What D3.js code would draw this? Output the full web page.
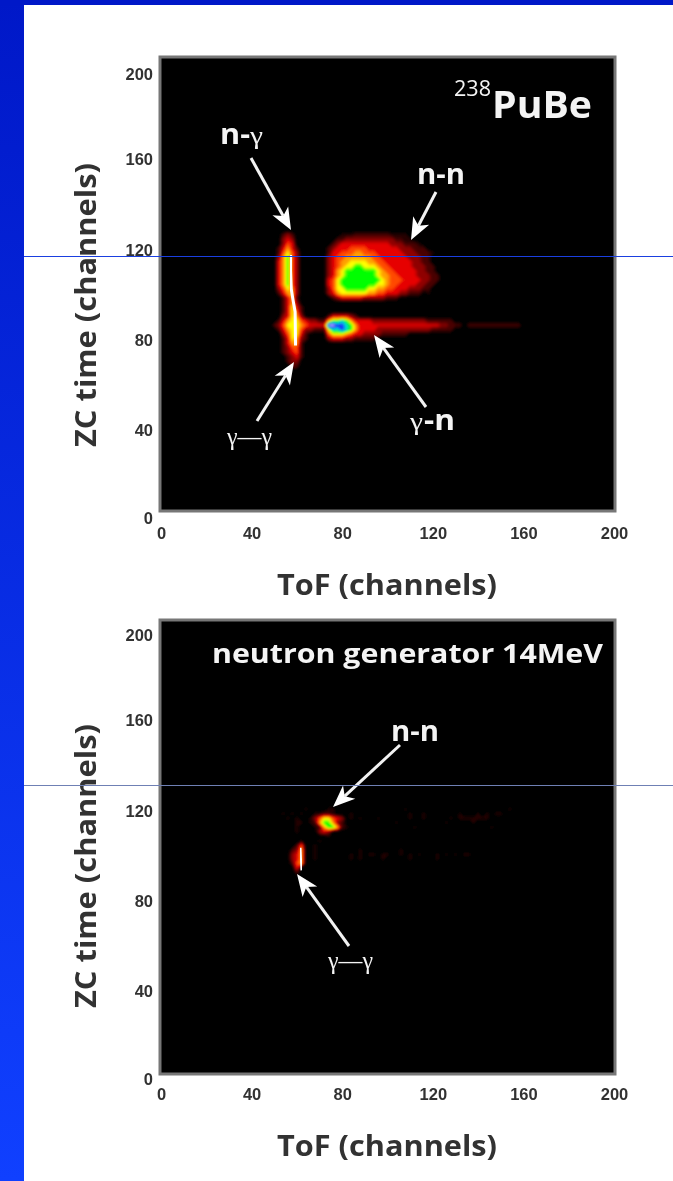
<!DOCTYPE html>
<html>
<head>
<meta charset="utf-8">
<script src="https://cdn.jsdelivr.net/npm/d3@7"></script>
<style>
  html, body { margin: 0; padding: 0; background: #fff; }
  svg { display: block; }
  text { font-family: "Open Sans", sans-serif; }
  .tick text { font-family: "Liberation Sans", sans-serif; font-weight: bold; font-size: 16.5px; fill: #333; }
</style>
</head>
<body>
<svg id="chart" width="673" height="1181"></svg>
<script>
// tick labels, same on both panels
const xTicks = [0, 40, 80, 120, 160, 200];
const yTicks = [0, 40, 80, 120, 160, 200];

// intensity, 0 = black, . = barely visible, 3 = red, 6 = yellow,
// 7 = green, 9 = blue, a = white
// one char per 2 channels of ToF starting at channel 50, short rows are padded with 0
const gridStartX = 50;

// 238PuBe, first row is ZC channel 128, each next row 2 channels lower
const pubeTopY = 128;
const pubeRows = [
  "0000000000000000",
  "001210000000000...11111111....",
  "00232000000000112222222222211..",
  "00243000000001233333333333222111.",
  "01353100000012333444433333332221110",
  "01464200000013344455444333333222111.",
  "025742000000234455555544333333222110",
  "035742000000234556666554433333322110",
  "0357420000002345667766654433333222110",
  "0357420000002356777777765443333322110",
  "0357420000002356777777765544333322211",
  "0357420000003467777777776544433332211",
  "0357420000003467777777766544333322110",
  "024652000000246677777665544333222110",
  "0135520000002356666665544333221110.",
  "00135100000001233333222221110",
  "001352000000",
  "001363100000",
  "001364100000",
  "0023652000001333321",
  "013566432211577875333322222222222211111100",
  "124666543333aa99875333333333333333333221110111111111111",
  "01356642211168898753333222222222222111110",
  "00246631000046665433222211111100",
  "0013652100002333221" + "1111",
  "001355100000",
  "001244100000",
  "001234100000",
  "000123100000",
  "000122000000",
  "000011000000"
];
// white core of the gamma ridge
const pubeRidgeToF = [57.2, 57.2, 57.5, 58.3, 59.2, 59.4];
const pubeRidgeZc = [117, 110, 102, 97, 92, 77];

// neutron generator, first row is ZC channel 122
const generatorTopY = 122;
const generatorRows = [
  "00000000000000.00",
  "0000000.0000..000000000000000.0000000000000000000000.0",
  "00.0.0.00..11.000.000000000000.00.0000000.000.0.0..0",
  "000.0.00.24664320.0.000.000000.00.00000.0.......0",
  "00000..0.157752100000000000.0000000000.00000.00",
  "00000.000.157751.00000000000000.0000000000000000.",
  "00000.000023200000",
  "000000000000.000",
  "000000.000.000",
  "000001400.000",
  "000012500.000000000.00000000.00",
  "000023500.0000000.0.0..0..00.0.0.000.0.0.0..0",
  "000023500.0000000.0.0000.00000.00000.00",
  "00001450000000",
  "00000300",
  "00000100"
];
const generatorRidgeToF = [61.6, 62];
const generatorRidgeZc = [103, 93];

// heat colours per intensity level
const levelColors = ["#000000", "#4a0000", "#8f0000", "#e60000", "#ff4a00", "#ffa000", "#ffff00", "#00ff00", "#00dcdc", "#1428ff", "#ffffff"];

const svg = d3.select("#chart");
const defs = svg.append("defs");

const blue = defs.append("linearGradient").attr("id", "slideBlue")
  .attr("x1", 0).attr("x2", 0).attr("y1", 0).attr("y2", 1);
blue.append("stop").attr("offset", 0).attr("stop-color", "#0018c8");
blue.append("stop").attr("offset", 1).attr("stop-color", "#1040ff");

defs.append("filter").attr("id", "heatBlur")
  .append("feGaussianBlur").attr("stdDeviation", 1.2);
defs.append("filter").attr("id", "soft")
  .append("feGaussianBlur").attr("stdDeviation", 0.4);

// slide background
svg.append("rect").attr("width", 24).attr("height", 1181).attr("fill", "url(#slideBlue)");
svg.append("rect").attr("width", 673).attr("height", 5).attr("fill", "#0018c8");

const color = d3.scaleLinear().domain(d3.range(levelColors.length)).range(levelColors);
const contours = d3.contours().thresholds(d3.range(0.25, 10.1, 0.25));

function drawPanel(opt) {
  const dy = opt.dy;
  const frameY = 57 + dy + opt.frameShift;
  const x = d3.scaleLinear().domain([0, 200]).range([161, 614]);
  const y = d3.scaleLinear().domain([0, 200]).range([520 + dy, 67 + dy]);
  // the y labels are not evenly spaced in the picture
  const yTick = d3.scaleLinear().domain(yTicks).range([518, 430, 340, 250, 159, 74].map((v) => v + dy));

  const g = svg.append("g");
  const clipId = "clip" + dy;
  defs.append("clipPath").attr("id", clipId)
    .append("rect").attr("x", 161).attr("y", frameY + 1).attr("width", 453).attr("height", 452);

  g.append("rect").attr("x", 160).attr("y", frameY).attr("width", 455).attr("height", 454)
    .attr("fill", "#000").attr("stroke", "#777").attr("stroke-width", 3);

  // heat map from the intensity rows
  const nCols = 60;
  const values = [];
  opt.rows.forEach((row) => {
    for (const c of row.padEnd(nCols, "0")) values.push(c === "." ? 0.5 : parseInt(c, 16));
  });
  const grid = contours.size([nCols, opt.rows.length])(values);
  const path = d3.geoPath(d3.geoTransform({
    point(gx, gy) {
      this.stream.point(x(gridStartX + (gx - 0.5) * 2), y(opt.topY - (gy - 0.5) * 2));
    }
  }));
  const plot = g.append("g").attr("clip-path", `url(#${clipId})`);
  plot.append("g").attr("filter", "url(#heatBlur)")
    .selectAll("path")
    .data(grid)
    .join("path")
    .attr("d", path)
    .attr("fill", (d) => color(d.value));

  // white ridge on top
  const ridgeLine = d3.line().x((d) => x(d[0])).y((d) => y(d[1]));
  plot.append("path")
    .attr("d", ridgeLine(d3.zip(opt.ridgeToF, opt.ridgeZc)))
    .attr("fill", "none").attr("stroke", "#fff").attr("stroke-width", opt.ridgeWidth)
    .attr("filter", "url(#soft)");

  // axes, labels only
  const xAxis = d3.axisBottom(x).tickValues(xTicks).tickSize(0).tickPadding(0);
  const yAxis = d3.axisLeft(yTick).tickValues(yTicks).tickSize(0).tickPadding(0);
  const ax = g.append("g").attr("transform", `translate(0,${527 + dy})`).call(xAxis);
  const ay = g.append("g").attr("transform", "translate(153,0)").call(yAxis);
  ax.select(".domain").remove();
  ay.select(".domain").remove();
  ax.selectAll("text").attr("filter", "url(#soft)");
  ay.selectAll("text").attr("filter", "url(#soft)");

  // axis titles
  g.append("text").text("ToF (channels)")
    .attr("x", 277).attr("y", 595 + dy)
    .attr("textLength", 220).attr("lengthAdjust", "spacingAndGlyphs")
    .attr("font-size", 28).attr("font-weight", 700).attr("fill", "#333").attr("filter", "url(#soft)");
  g.append("text").text("ZC time (channels)")
    .attr("transform", `translate(96,${447 + dy}) rotate(-90)`)
    .attr("textLength", 284).attr("lengthAdjust", "spacingAndGlyphs")
    .attr("font-size", 28).attr("font-weight", 700).attr("fill", "#333").attr("filter", "url(#soft)");
}

function arrow(x1, y1, x2, y2) {
  const a = Math.atan2(y2 - y1, x2 - x1);
  const len = 22, half = 9, notch = 16;
  const bx = x2 - len * Math.cos(a), by = y2 - len * Math.sin(a);
  const nx = x2 - notch * Math.cos(a), ny = y2 - notch * Math.sin(a);
  const px = -Math.sin(a) * half, py = Math.cos(a) * half;
  const g = svg.append("g").attr("filter", "url(#soft)");
  g.append("line").attr("x1", x1).attr("y1", y1).attr("x2", nx).attr("y2", ny)
    .attr("stroke", "#f2f2f2").attr("stroke-width", 3);
  g.append("path")
    .attr("d", `M${x2},${y2}L${bx + px},${by + py}L${nx},${ny}L${bx - px},${by - py}Z`)
    .attr("fill", "#fff");
}

function label(parts, y) {
  const t = svg.append("g").attr("filter", "url(#soft)");
  parts.forEach((p) => {
    t.append("text").text(p.s)
      .attr("x", p.x).attr("y", y)
      .attr("textLength", p.w).attr("lengthAdjust", "spacingAndGlyphs")
      .attr("fill", "#f4f4f4")
      .attr("font-size", p.size)
      .attr("font-weight", p.weight || 700)
      .style("font-family", p.serif ? "'Liberation Serif', serif" : null);
  });
}

drawPanel({ dy: 0, frameShift: 0, rows: pubeRows, topY: pubeTopY, ridgeToF: pubeRidgeToF, ridgeZc: pubeRidgeZc, ridgeWidth: 3 });
drawPanel({ dy: 561, frameShift: 2, rows: generatorRows, topY: generatorTopY, ridgeToF: generatorRidgeToF, ridgeZc: generatorRidgeZc, ridgeWidth: 2 });

// top panel notes
label([{ s: "238", x: 454, w: 37, size: 21, weight: 400 }], 96);
label([{ s: "PuBe", x: 492, w: 100, size: 37 }], 118);
label([{ s: "n-", x: 220, w: 30, size: 28 }, { s: "γ", x: 250, w: 13, size: 25, weight: 400, serif: true }], 144);
label([{ s: "n-n", x: 417, w: 48, size: 28 }], 184);
label([{ s: "γ—γ", x: 227, w: 45, size: 25, weight: 400, serif: true }], 445);
label([{ s: "γ", x: 410, w: 13, size: 25, weight: 400, serif: true }, { s: "-n", x: 424, w: 31, size: 28 }], 430);
arrow(251, 158, 291, 230);
arrow(436, 192, 411, 240);
arrow(257, 421, 294, 362);
arrow(426, 407, 374, 335);

// bottom panel notes
label([{ s: "neutron generator 14MeV", x: 212, w: 391, size: 27 }], 663);
label([{ s: "n-n", x: 391, w: 48, size: 28 }], 741);
label([{ s: "γ—γ", x: 328, w: 45, size: 25, weight: 400, serif: true }], 969);
arrow(400, 745, 333, 807);
arrow(349, 946, 297, 874);

// stray slide rules crossing the page
svg.append("line").attr("x1", 24).attr("x2", 673).attr("y1", 256.5).attr("y2", 256.5)
  .attr("stroke", "#1a3fe0").attr("stroke-width", 1);
svg.append("line").attr("x1", 24).attr("x2", 673).attr("y1", 785.5).attr("y2", 785.5)
  .attr("stroke", "#6f80b4").attr("stroke-width", 1);
</script>
</body>
</html>
